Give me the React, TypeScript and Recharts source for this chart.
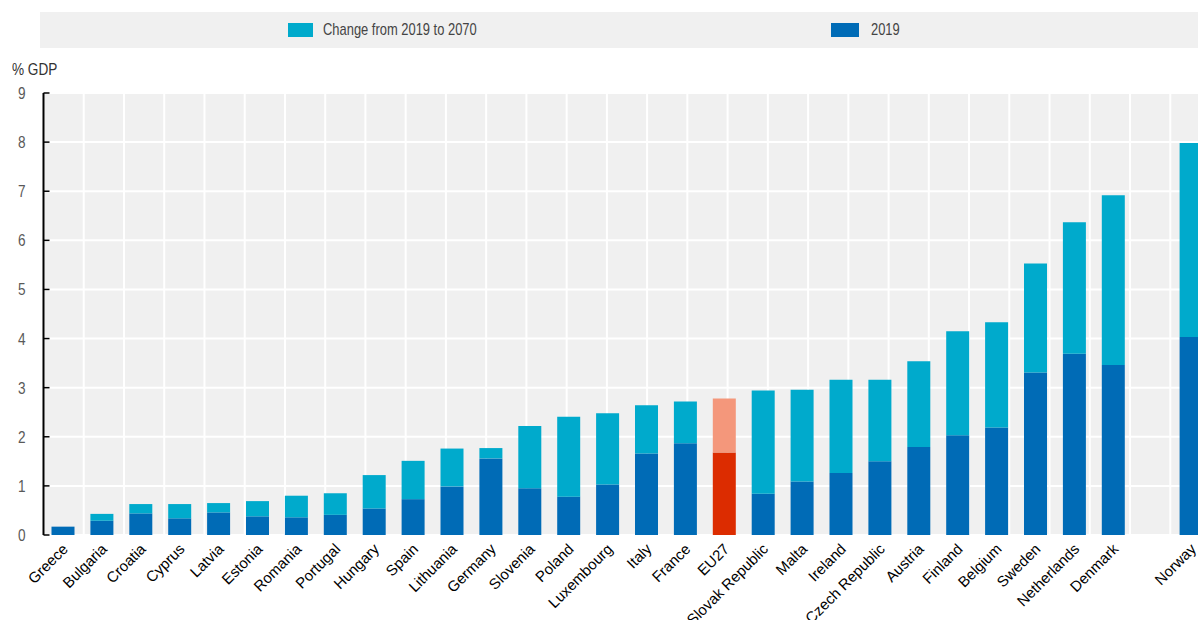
import { BarChart, Bar, XAxis, YAxis, CartesianGrid, Cell } from 'recharts';

const countries = [
  'Greece', 'Bulgaria', 'Croatia', 'Cyprus', 'Latvia', 'Estonia', 'Romania', 'Portugal',
  'Hungary', 'Spain', 'Lithuania', 'Germany', 'Slovenia', 'Poland', 'Luxembourg', 'Italy',
  'France', 'EU27', 'Slovak Republic', 'Malta', 'Ireland', 'Czech Republic', 'Austria',
  'Finland', 'Belgium', 'Sweden', 'Netherlands', 'Denmark', '', 'Norway',
];

const level2019 = [
  0.17, 0.29, 0.44, 0.34, 0.46, 0.38, 0.36, 0.41,
  0.54, 0.73, 0.99, 1.56, 0.95, 0.78, 1.03, 1.66,
  1.87, 1.68, 0.84, 1.09, 1.26, 1.50, 1.79,
  2.03, 2.19, 3.31, 3.69, 3.46, null, 4.03,
];

const change2070 = [
  0.0, 0.14, 0.19, 0.29, 0.19, 0.31, 0.44, 0.44,
  0.68, 0.78, 0.77, 0.21, 1.27, 1.63, 1.45, 0.98,
  0.85, 1.10, 2.10, 1.87, 1.90, 1.66, 1.75,
  2.12, 2.14, 2.22, 2.68, 3.46, null, 3.95,
];

const yTicks = [0, 1, 2, 3, 4, 5, 6, 7, 8, 9];
const boundaries = Array.from({ length: countries.length + 1 }, (_, i) => i);

const DARK = '#006bb6';
const LIGHT = '#00aacc';
const HL_DARK = '#dc2c00';
const HL_LIGHT = '#f4977b';
const BG = '#f0f0f0';
const SANS = '"Liberation Sans", Arial, sans-serif';

const data = countries.map((name, i) => ({
  name,
  base: level2019[i],
  change: change2070[i],
}));

function CountryTick(props: any) {
  const { x, y, payload } = props;
  const ax = x + 6;
  const ay = y + 15;
  return (
    <text
      x={ax}
      y={ay}
      transform={`rotate(-45, ${ax}, ${ay})`}
      textAnchor="end"
      fontSize={15}
      fontFamily={SANS}
      fill="#000"
    >
      {payload.value}
    </text>
  );
}

function ValueTick(props: any) {
  const { x, y, payload } = props;
  return (
    <g>
      <line x1={x + 18} x2={x + 24} y1={y} y2={y} stroke="#000" strokeWidth={1.5} />
      <text
        transform={`translate(${x}, ${y + 6}) scale(0.8, 1)`}
        textAnchor="end"
        fontSize={17}
        fontFamily={SANS}
        fill="#595959"
      >
        {payload.value}
      </text>
    </g>
  );
}

const EmptyTick = () => <g />;

export default function App() {
  const narrowText = { transform: 'scaleX(0.76)', transformOrigin: 'left center', whiteSpace: 'nowrap' as const };
  return (
    <div style={{ position: 'relative', width: 1198, height: 620, overflow: 'hidden', background: '#fff' }}>
      <style>{'body{margin:0}'}</style>
      <div
        style={{
          position: 'absolute', left: 40, top: 12, width: 1180, height: 36, background: BG,
          fontFamily: SANS, fontSize: 17, color: '#444',
        }}
      >
        <div style={{ position: 'absolute', left: 248, top: 11, width: 25, height: 14, background: LIGHT }} />
        <div style={{ position: 'absolute', left: 283, top: 8, lineHeight: '20px', ...narrowText }}>
          Change from 2019 to 2070
        </div>
        <div style={{ position: 'absolute', left: 791, top: 11, width: 28, height: 14, background: DARK }} />
        <div style={{ position: 'absolute', left: 831, top: 8, lineHeight: '20px', ...narrowText }}>2019</div>
      </div>
      <div
        style={{
          position: 'absolute', left: 12, top: 60, fontFamily: SANS, fontSize: 17, color: '#333',
          ...narrowText, transform: 'scaleX(0.8)',
        }}
      >
        % GDP
      </div>
      <BarChart
        width={1212}
        height={620}
        data={data}
        margin={{ top: 93, right: 1.5, bottom: 0, left: 0 }}
        barSize={23}
      >
        <CartesianGrid xAxisId="b" fill={BG} stroke="#fff" strokeWidth={2} />
        <XAxis
          xAxisId="b"
          type="number"
          domain={[0, countries.length]}
          ticks={boundaries}
          interval={0}
          allowDataOverflow
          height={0}
          tick={<EmptyTick />}
          tickSize={5}
          tickLine={{ stroke: '#000', strokeWidth: 1.5 }}
          axisLine={{ stroke: '#000', strokeWidth: 2 }}
        />
        <XAxis
          dataKey="name"
          interval={0}
          height={85}
          tickLine={false}
          axisLine={false}
          tickSize={0}
          tickMargin={0}
          tick={<CountryTick />}
        />
        <YAxis
          domain={[0, 9]}
          ticks={yTicks}
          width={43.5}
          tickLine={false}
          tickSize={0}
          tickMargin={18}
          axisLine={{ stroke: '#000', strokeWidth: 2 }}
          tick={<ValueTick />}
        />
        <Bar dataKey="base" stackId="a" fill={DARK} isAnimationActive={false}>
          {data.map((d, i) => (
            <Cell key={`b-${i}`} fill={d.name === 'EU27' ? HL_DARK : DARK} />
          ))}
        </Bar>
        <Bar dataKey="change" stackId="a" fill={LIGHT} isAnimationActive={false}>
          {data.map((d, i) => (
            <Cell key={`c-${i}`} fill={d.name === 'EU27' ? HL_LIGHT : LIGHT} />
          ))}
        </Bar>
      </BarChart>
    </div>
  );
}
